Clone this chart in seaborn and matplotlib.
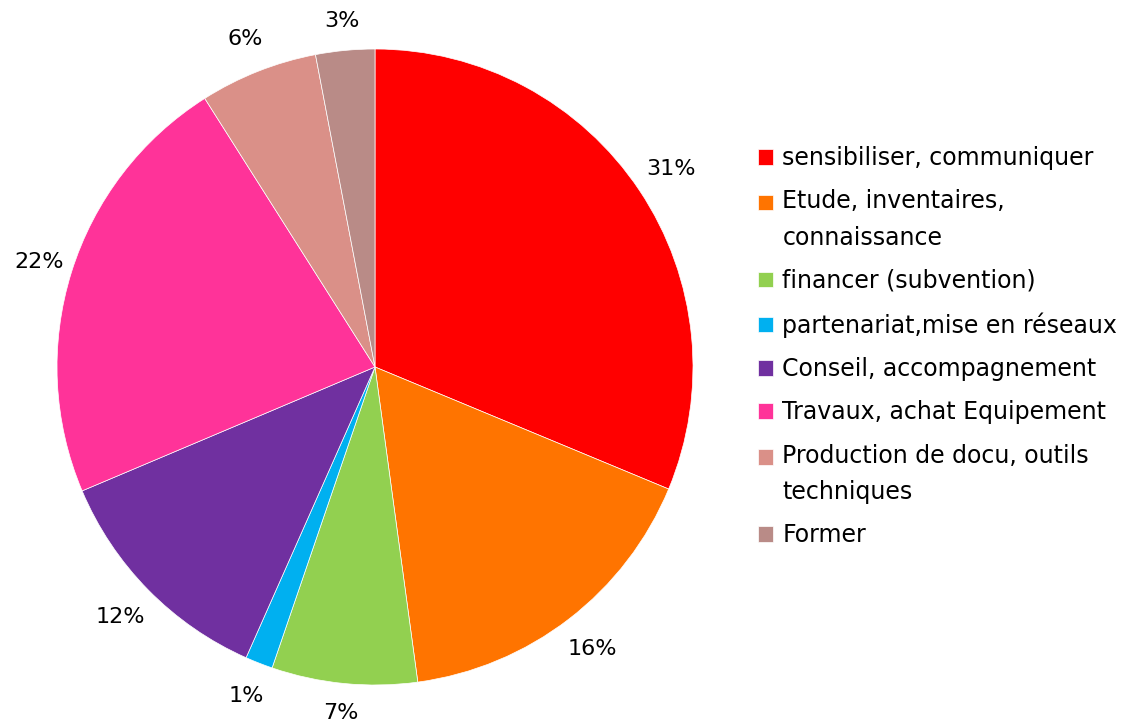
import numpy as np
import matplotlib.pyplot as plt
import seaborn as sns

categories = [
    "sensibiliser, communiquer",
    "Etude, inventaires,\nconnaissance",
    "financer (subvention)",
    "partenariat,mise en réseaux",
    "Conseil, accompagnement",
    "Travaux, achat Equipement",
    "Production de docu, outils\ntechniques",
    "Former",
]
shares = [31.3, 16.6, 7.4, 1.4, 12.0, 22.4, 6.0, 3.0]
pct_labels = ["31%", "16%", "7%", "1%", "12%", "22%", "6%", "3%"]
colors = ["#ff0000", "#ff7400", "#92d050", "#00b0f0",
          "#7030a0", "#ff3399", "#da9088", "#b98b87"]

sns.set_theme(style="white")
plt.rcParams['font.family'] = ['DejaVu Sans']

W, H = 1130, 724
fig = plt.figure(figsize=(W / 100, H / 100), dpi=100)
cx, cy, r = 375, 367, 318
ax = fig.add_axes([(cx - r) / W, (H - cy - r) / H, 2 * r / W, 2 * r / H])

wedges, texts = ax.pie(shares, labels=pct_labels, colors=colors, startangle=90,
                       counterclock=False, labeldistance=1.1,
                       wedgeprops=dict(linewidth=0.5, edgecolor='white'),
                       textprops=dict(fontsize=16, color='black'))
# labels sit a bit further out on the diagonals, like excel does
for t in texts:
    x, y = t.get_position()
    ang = np.arctan2(y, x)
    d = 1.085 + 0.037 * abs(np.sin(2 * ang))
    t.set_position((d * np.cos(ang), d * np.sin(ang)))
    t.set_horizontalalignment('center')
    t.set_verticalalignment('center')
ax.set_xlim(-1, 1)
ax.set_ylim(-1, 1)
ax.set_aspect('equal')
ax.axis('off')

leg = fig.legend(wedges, categories, loc='upper left',
                 bbox_to_anchor=(758 / W, 1 - 146 / H), frameon=False,
                 fontsize=17, labelcolor='black', handlelength=0.65,
                 handleheight=0.65, handletextpad=0.38, labelspacing=0.82,
                 borderpad=0, borderaxespad=0)
for t in leg.get_texts():
    t.set_linespacing(1.64)
# put the square of a wrapped entry next to its first line
for p, lab in zip(leg.get_patches(), categories):
    if "\n" in lab:
        p.set_y(p.get_y() + 13)

fig.savefig('out.png', dpi=100)
